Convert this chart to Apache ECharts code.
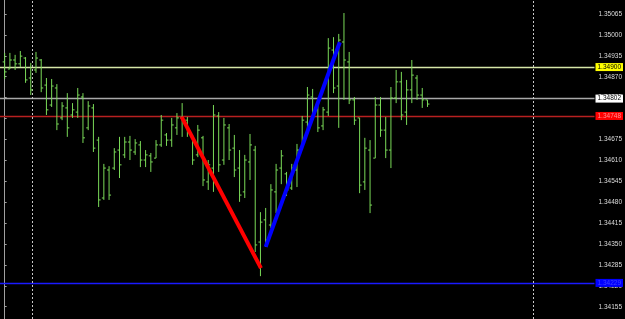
<!DOCTYPE html>
<html><head><meta charset="utf-8">
<script src="https://cdn.jsdelivr.net/npm/echarts@6/dist/echarts.min.js"></script>
<style>html,body{margin:0;padding:0;background:#000;}#c{width:625px;height:319px;}</style>
</head><body><div id="c"></div>
<script>
const barIndex = [0,1,2,3,4,5,6,7,8,9,10,11,12,13,14,15,16,17,18,19,20,21,22,23,24,25,26,27,28,29,30,31,32,33,34,35,36,37,38,39,40,41,42,43,44,45,46,47,48,49,50,51,52,53,54,55,56,57,58,59,60,61,62,63,64,65,66,67,68,69,70,71,72,73,74,75,76,77,78,79,80,81];
const openP = [1.34916,1.34894,1.34922,1.34910,1.34928,1.34866,1.34891,1.34922,1.34844,1.34782,1.34835,1.34742,1.34773,1.34751,1.34760,1.34807,1.34711,1.34773,1.34673,1.34493,1.34580,1.34586,1.34642,1.34627,1.34667,1.34636,1.34658,1.34611,1.34624,1.34617,1.34658,1.34689,1.34673,1.34711,1.34742,1.34735,1.34689,1.34627,1.34680,1.34543,1.34586,1.34748,1.34611,1.34711,1.34648,1.34586,1.34512,1.34605,1.34642,1.34356,1.34425,1.34409,1.34512,1.34586,1.34568,1.34524,1.34580,1.34648,1.34729,1.34807,1.34767,1.34717,1.34760,1.34953,1.34841,1.34978,1.34916,1.34798,1.34742,1.34543,1.34642,1.34617,1.34782,1.34704,1.34642,1.34804,1.34854,1.34760,1.34829,1.34866,1.34813,1.34798];
const highP = [1.34944,1.34944,1.34938,1.34950,1.34931,1.34913,1.34947,1.34925,1.34866,1.34863,1.34847,1.34791,1.34819,1.34788,1.34835,1.34819,1.34794,1.34785,1.34683,1.34599,1.34592,1.34648,1.34683,1.34683,1.34686,1.34676,1.34670,1.34642,1.34633,1.34673,1.34751,1.34695,1.34742,1.34757,1.34788,1.34745,1.34689,1.34720,1.34686,1.34611,1.34782,1.34760,1.34742,1.34723,1.34689,1.34642,1.34627,1.34692,1.34655,1.34449,1.34462,1.34536,1.34599,1.34642,1.34574,1.34599,1.34661,1.34748,1.34838,1.34832,1.34782,1.34776,1.34990,1.34993,1.35003,1.35068,1.34947,1.34807,1.34742,1.34680,1.34673,1.34807,1.34807,1.34745,1.34838,1.34891,1.34885,1.34860,1.34922,1.34875,1.34835,1.34798];
const lowP = [1.34863,1.34894,1.34891,1.34900,1.34851,1.34813,1.34882,1.34822,1.34751,1.34776,1.34704,1.34735,1.34683,1.34742,1.34742,1.34664,1.34704,1.34636,1.34465,1.34487,1.34487,1.34580,1.34555,1.34617,1.34611,1.34627,1.34589,1.34589,1.34574,1.34617,1.34652,1.34655,1.34652,1.34689,1.34683,1.34683,1.34596,1.34620,1.34530,1.34518,1.34512,1.34574,1.34596,1.34611,1.34558,1.34481,1.34493,1.34549,1.34325,1.34250,1.34341,1.34400,1.34446,1.34536,1.34499,1.34518,1.34527,1.34642,1.34707,1.34735,1.34698,1.34704,1.34748,1.34819,1.34711,1.34798,1.34785,1.34720,1.34508,1.34518,1.34446,1.34617,1.34683,1.34617,1.34586,1.34788,1.34735,1.34720,1.34788,1.34798,1.34773,1.34776];
const closeP = [1.34885,1.34922,1.34910,1.34934,1.34860,1.34829,1.34928,1.34835,1.34767,1.34841,1.34723,1.34779,1.34711,1.34767,1.34813,1.34680,1.34779,1.34648,1.34487,1.34586,1.34502,1.34636,1.34596,1.34667,1.34642,1.34664,1.34611,1.34627,1.34605,1.34658,1.34735,1.34673,1.34720,1.34742,1.34735,1.34704,1.34611,1.34704,1.34549,1.34596,1.34751,1.34596,1.34720,1.34642,1.34580,1.34502,1.34611,1.34658,1.34347,1.34418,1.34362,1.34518,1.34580,1.34624,1.34518,1.34586,1.34642,1.34735,1.34813,1.34760,1.34711,1.34767,1.34959,1.34835,1.34984,1.34922,1.34798,1.34735,1.34533,1.34648,1.34471,1.34782,1.34704,1.34642,1.34804,1.34854,1.34751,1.34829,1.34875,1.34813,1.34798,1.34785];
const priceTicks = [1.35065,1.35000,1.34935,1.34870,1.34805,1.34740,1.34675,1.34610,1.34545,1.34480,1.34415,1.34350,1.34285,1.34220,1.34155];
const levelValues = [1.34900,1.34802,1.34748,1.34229];
const separatorBars = [5.2,101.2];
const redTrend = [[33.9,1.34745],[49.1,1.34275]];
const blueTrend = [[50.0,1.34341],[64.2,1.34977]];

const levelStyles = [
  {line:'#d6e6a8', bg:'#ffff00', fg:'#000000'},
  {line:'#a8a8a8', bg:'#ffffff', fg:'#000000'},
  {line:'#b82020', bg:'#ff0000', fg:'#ff9090'},
  {line:'#1a1aff', bg:'#0000ff', fg:'#4040ff'}
];

const ohlc = barIndex.map((x,k)=>[x, openP[k], highP[k], lowP[k], closeP[k]]);

const chart = echarts.init(document.getElementById('c'), null, {renderer:'canvas'});
chart.setOption({
  backgroundColor:'#000000',
  animation:false,
  grid:{left:0,right:27,top:0,bottom:0},
  xAxis:{type:'value',min:-0.895,max:113,show:false},
  yAxis:{type:'value',position:'right',min:1.341168,max:1.351085,
    axisLine:{show:true,lineStyle:{color:'#a0a0a0',width:1}},
    axisTick:{show:true,customValues:priceTicks,length:2,lineStyle:{color:'#a0a0a0'}},
    axisLabel:{customValues:priceTicks,formatter:v=>v.toFixed(5),color:'#dcdcdc',fontSize:6.5,fontFamily:'Liberation Sans',margin:4},
    splitLine:{show:false}},
  series:[
    {type:'custom',name:'bars',encode:{x:0,y:[1,2,3,4]},data:ohlc,z:3,
      renderItem:function(params,api){
        const x=api.value(0);
        const pO=api.coord([x,api.value(1)]);
        const pH=api.coord([x,api.value(2)]);
        const pL=api.coord([x,api.value(3)]);
        const pC=api.coord([x,api.value(4)]);
        const st={stroke:'#7ada58',lineWidth:1};
        return {type:'group',children:[
          {type:'line',shape:{x1:pH[0],y1:pH[1],x2:pL[0],y2:pL[1]},style:st},
          {type:'line',shape:{x1:pO[0]-2,y1:pO[1],x2:pO[0],y2:pO[1]},style:st},
          {type:'line',shape:{x1:pC[0],y1:pC[1],x2:pC[0]+2,y2:pC[1]},style:st}
        ]};
      }
    },
    {type:'line',name:'down',data:redTrend,showSymbol:false,symbol:'none',z:4,
      lineStyle:{color:'#ff0000',width:4},itemStyle:{color:'#ff0000'},
      markLine:{symbol:'none',silent:true,animation:false,precision:6,z:2,
        data:levelValues.map((v,k)=>({yAxis:v,
          lineStyle:{color:levelStyles[k].line,width:1.3,type:'solid'},
          label:{show:true,position:'end',distance:1,formatter:p=>Number(p.value).toFixed(5),
            backgroundColor:levelStyles[k].bg,color:levelStyles[k].fg,padding:[1,2,0,2],
            fontSize:6.5,fontFamily:'Liberation Sans'}})).concat(
          separatorBars.map(b=>({xAxis:b,lineStyle:{color:'#c8c8c8',width:1,type:[2,2]},label:{show:false}})))
      }},
    {type:'line',name:'up',data:blueTrend,showSymbol:false,symbol:'none',z:4,
      lineStyle:{color:'#0000ff',width:4},itemStyle:{color:'#0000ff'}}
  ]
});
</script></body></html>
